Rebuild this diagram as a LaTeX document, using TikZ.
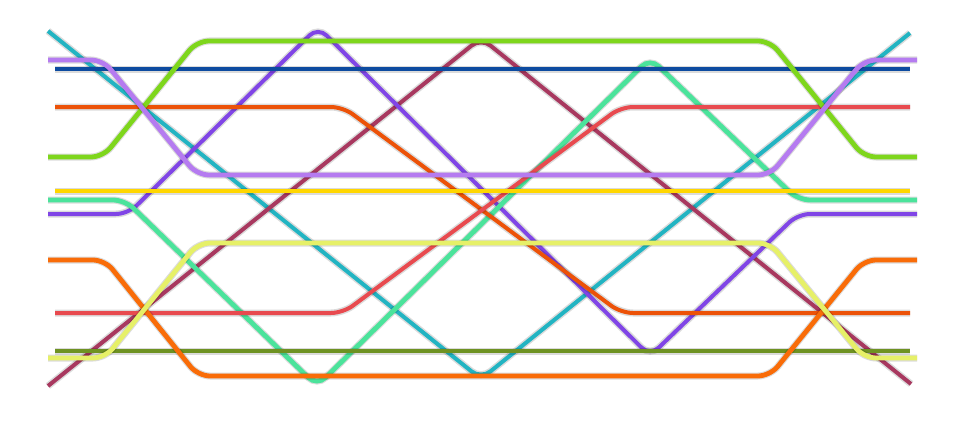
\documentclass[tikz,border=0pt]{standalone}
\usepackage{xcolor}
\definecolor{azul}{HTML}{0D4BA0}
\definecolor{naranjarojo}{HTML}{EC5208}
\definecolor{rojo}{HTML}{E84A4F}
\definecolor{amarillo}{HTML}{FFD600}
\definecolor{oliva}{HTML}{6E9222}
\definecolor{turquesa}{HTML}{22B4C2}
\definecolor{granate}{HTML}{A8385F}
\definecolor{lima}{HTML}{7ED61C}
\definecolor{lila}{HTML}{B57BF0}
\definecolor{violeta}{HTML}{8045E6}
\definecolor{menta}{HTML}{4BE39B}
\definecolor{naranja}{HTML}{F96C08}
\definecolor{limon}{HTML}{E6F068}
\begin{document}
\begin{tikzpicture}[x=1pt, y=-1pt,
        linea/.style={line width=4pt, rounded corners=12pt,
            preaction={draw=black, opacity=0.14, line width=7pt}},
        gruesa/.style={linea, line width=4.8pt}]
        \useasboundingbox (0,0) rectangle (960,420);

        % Diagonales rectas
        \draw[linea, turquesa] (48,31) -- (481,379) -- (910,33);
        \draw[linea, granate] (48,386) -- (481,38) -- (911,384);

        % Zigzag en forma de W y M
        \draw[linea, violeta] (48,214) -- (128,214) -- (318,27) -- (650,356) -- (798,214) -- (917,214);
        \draw[gruesa, menta] (48,200) -- (125,200) -- (317,386) -- (650,58) -- (798,200) -- (917,200);

        % Cruces de un solo paso
        \draw[linea, naranjarojo] (55,107) -- (343,107) -- (621,313) -- (910,313);
        \draw[linea, rojo] (55,313) -- (343,313) -- (621,107) -- (910,107);

        % Horizontales
        \draw[linea, azul] (55,69) -- (910,69);
        \draw[gruesa, amarillo] (55,191) -- (910,191);
        \draw[gruesa, oliva] (55,351) -- (910,351);

        % Trapecios
        \draw[gruesa, lima] (48,157) -- (103,157) -- (197,41) -- (770,41) -- (864,157) -- (917,157);
        \draw[gruesa, lila] (48,60) -- (103,60) -- (197,175) -- (770,175) -- (864,60) -- (917,60);
        \draw[gruesa, naranja] (48,260) -- (105,260) -- (198,376) -- (770,376) -- (864,260) -- (917,260);
        \draw[gruesa, limon] (48,358) -- (105,358) -- (198,243) -- (770,243) -- (864,358) -- (917,358);
    \end{tikzpicture}
\end{document}
